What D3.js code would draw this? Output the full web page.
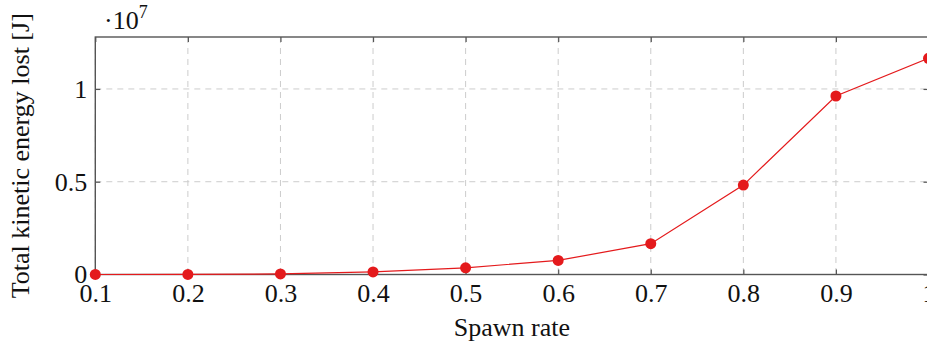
<html>
<head>
<script src="https://d3js.org/d3.v7.min.js"></script>
<style>
    body { margin: 0; background: #fff; }
    text { font-family: "Liberation Serif", "DejaVu Serif", serif; fill: #111; }
    .grid line { stroke: #ccc; stroke-dasharray: 6 5; stroke-width: 1; }
</style>
</head>
<body>
<script>
var spawnRate = [0.1, 0.2, 0.3, 0.4, 0.5, 0.6, 0.7, 0.8, 0.9, 1.0];
var energyLost = [1e3, 5e3, 3e4, 1.4e5, 3.6e5, 7.6e5, 1.66e6, 4.82e6, 9.62e6, 1.165e7];
var xTicks = [0.1, 0.2, 0.3, 0.4, 0.5, 0.6, 0.7, 0.8, 0.9, 1];
var yTicks = [0, 5e6, 1e7];
var yTickLabels = ["0", "0.5", "1"];

var width = 927, height = 345;
var plotLeft = 95.3, plotRight = 928.5, plotTop = 37, plotBottom = 274.5;

var svg = d3.select("body").append("svg")
    .attr("width", width)
    .attr("height", height);

var x = d3.scaleLinear().domain([0.1, 1]).range([plotLeft, plotRight]);
var y = d3.scaleLinear().domain([0, 1.28e7]).range([plotBottom, plotTop]);

// grid
var grid = svg.append("g").attr("class", "grid");
grid.selectAll(".vx").data(xTicks).enter().append("line")
    .attr("x1", d => x(d)).attr("x2", d => x(d))
    .attr("y1", plotTop).attr("y2", plotBottom);
grid.selectAll(".hy").data(yTicks).enter().append("line")
    .attr("x1", plotLeft).attr("x2", plotRight)
    .attr("y1", d => y(d)).attr("y2", d => y(d));

// axes (pgfplots style ticks inward)
var tickLen = 5;
svg.append("g").attr("transform", "translate(0," + plotBottom + ")")
    .call(d3.axisBottom(x).tickValues(xTicks).tickSizeInner(-tickLen).tickSizeOuter(0)
        .tickPadding(9).tickFormat(d => d === 1 ? "1" : d3.format(".1f")(d)))
    .call(g => g.select(".domain").remove())
    .call(g => g.selectAll("text").attr("font-size", 26).attr("dy", "0.71em"));
svg.append("g").attr("transform", "translate(0," + plotTop + ")")
    .call(d3.axisTop(x).tickValues(xTicks).tickSizeInner(-tickLen).tickSizeOuter(0).tickFormat(""))
    .call(g => g.select(".domain").remove());
svg.append("g").attr("transform", "translate(" + plotLeft + ",0)")
    .call(d3.axisLeft(y).tickValues(yTicks).tickSizeInner(-tickLen).tickSizeOuter(0)
        .tickPadding(8).tickFormat((d, i) => yTickLabels[i]))
    .call(g => g.select(".domain").remove())
    .call(g => g.selectAll("text").attr("font-size", 26));
svg.append("g").attr("transform", "translate(" + plotRight + ",0)")
    .call(d3.axisRight(y).tickValues(yTicks).tickSizeInner(-tickLen).tickSizeOuter(0).tickFormat(""))
    .call(g => g.select(".domain").remove());
svg.selectAll(".tick line").attr("stroke", "#555").attr("stroke-width", 1.2);

// frame
svg.append("rect")
    .attr("x", plotLeft).attr("y", plotTop)
    .attr("width", plotRight - plotLeft).attr("height", plotBottom - plotTop)
    .attr("fill", "none").attr("stroke", "#555").attr("stroke-width", 1.4);

// series
var line = d3.line()
    .x((d, i) => x(spawnRate[i]))
    .y(d => y(d));
svg.append("path")
    .datum(energyLost)
    .attr("d", line)
    .attr("fill", "none")
    .attr("stroke", "#e41a1c")
    .attr("stroke-width", 1.2);
svg.selectAll(".pt").data(energyLost).enter().append("circle")
    .attr("cx", (d, i) => x(spawnRate[i]))
    .attr("cy", d => y(d))
    .attr("r", 5.5)
    .attr("fill", "#e41a1c");

// labels
svg.append("text")
    .attr("x", (plotLeft + plotRight) / 2).attr("y", 336)
    .attr("text-anchor", "middle").attr("font-size", 26)
    .text("Spawn rate");
svg.append("text")
    .attr("transform", "translate(29," + ((plotTop + plotBottom) / 2) + ") rotate(-90)")
    .attr("text-anchor", "middle").attr("font-size", 26)
    .text("Total kinetic energy lost [J]");
var exp = svg.append("text").attr("x", 104).attr("y", 29).attr("font-size", 26);
exp.append("tspan").text("\u00b710");
exp.append("tspan").attr("dy", -11).attr("font-size", 18).text("7");
</script>
</body>
</html>
